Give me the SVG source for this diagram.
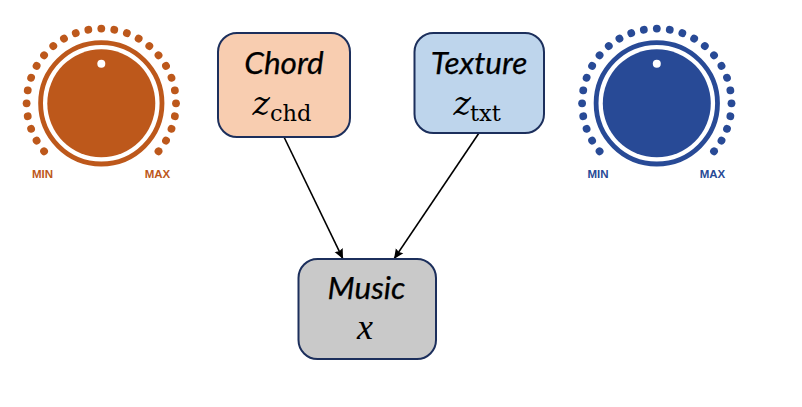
<svg xmlns="http://www.w3.org/2000/svg" width="802" height="407" viewBox="0 0 802 407">
<style>
.box{stroke:#1c2f5c;stroke-width:2}
.name{font-family:"Lato","Carlito","Open Sans",sans-serif;font-style:italic;font-size:31.5px;fill:#000;text-anchor:middle;stroke:#000;stroke-width:.25}
.math{font-family:"DejaVu Serif","Liberation Serif",serif;font-style:italic;font-size:33px;fill:#000}
.mathx{font-family:"Liberation Serif","DejaVu Serif",serif;font-style:italic;font-size:36px;fill:#000}
.sub{font-family:"DejaVu Serif","Liberation Serif",serif;font-size:22.5px;fill:#000}
.lim{font-family:"Liberation Sans",Arial,sans-serif;font-weight:bold;font-size:11.5px;text-anchor:middle}
.conn{stroke:#000;stroke-width:1.6;fill:none;marker-end:url(#arrow)}
.orange{color:#bd581b;fill:#bd581b}
.blue{color:#284a96;fill:#284a96}
</style>
<defs>
<marker id="arrow" markerUnits="userSpaceOnUse" markerWidth="11" markerHeight="10" refX="10" refY="5" orient="auto"><path d="M0 .5L10 5L0 9.500L1.500 5Z" fill="#000"/></marker>
<g id="knob">
<circle r="60.7" fill="none" stroke="currentColor" stroke-width="4.8"/>
<circle r="54" fill="currentColor"/>
<circle cy="-39.5" r="4" fill="#fff"/>
<g fill="currentColor">
<circle r="3.9" transform="rotate(-130) translate(0 -74.7)"/><circle r="3.9" transform="rotate(-120) translate(0 -74.7)"/><circle r="3.9" transform="rotate(-110) translate(0 -74.7)"/><circle r="3.9" transform="rotate(-100) translate(0 -74.7)"/><circle r="3.9" transform="rotate(-90) translate(0 -74.7)"/><circle r="3.9" transform="rotate(-80) translate(0 -74.7)"/><circle r="3.9" transform="rotate(-70) translate(0 -74.7)"/><circle r="3.9" transform="rotate(-60) translate(0 -74.7)"/><circle r="3.9" transform="rotate(-50) translate(0 -74.7)"/><circle r="3.9" transform="rotate(-40) translate(0 -74.7)"/><circle r="3.9" transform="rotate(-30) translate(0 -74.7)"/><circle r="3.9" transform="rotate(-20) translate(0 -74.7)"/><circle r="3.9" transform="rotate(-10) translate(0 -74.7)"/><circle r="3.9" transform="translate(0 -74.7)"/><circle r="3.9" transform="rotate(10) translate(0 -74.7)"/><circle r="3.9" transform="rotate(20) translate(0 -74.7)"/><circle r="3.9" transform="rotate(30) translate(0 -74.7)"/><circle r="3.9" transform="rotate(40) translate(0 -74.7)"/><circle r="3.9" transform="rotate(50) translate(0 -74.7)"/><circle r="3.9" transform="rotate(60) translate(0 -74.7)"/><circle r="3.9" transform="rotate(70) translate(0 -74.7)"/><circle r="3.9" transform="rotate(80) translate(0 -74.7)"/><circle r="3.9" transform="rotate(90) translate(0 -74.7)"/><circle r="3.9" transform="rotate(100) translate(0 -74.7)"/><circle r="3.9" transform="rotate(110) translate(0 -74.7)"/><circle r="3.9" transform="rotate(120) translate(0 -74.7)"/><circle r="3.9" transform="rotate(130) translate(0 -74.7)"/>
</g>
</g>
</defs>
<rect width="802" height="407" fill="#fff"/>
<g id="connectors">
<path class="conn" d="M284 137L343 259"/>
<path class="conn" d="M479 133L394 259"/>
</g>
<g id="knob-chord" class="orange">
<use href="#knob" x="101.3" y="103.3"/>
<text class="lim" x="42.500" y="178">MIN</text>
<text class="lim" x="157.500" y="178">MAX</text>
</g>
<g id="knob-texture" class="blue">
<use href="#knob" x="656.8" y="103.3"/>
<text class="lim" x="598" y="178">MIN</text>
<text class="lim" x="712.500" y="178">MAX</text>
</g>
<g id="node-chord">
<rect class="box" x="218" y="33" width="132" height="104" rx="19" fill="#f8cdb0"/>
<text class="name" x="284" y="73.500">Chord</text>
<text class="math" x="252.500" y="115">z</text><text class="sub" x="270" y="121">chd</text>
</g>
<g id="node-texture">
<rect class="box" x="414.500" y="33" width="129.500" height="100" rx="19" fill="#bed5ec"/>
<text class="name" x="479" y="73.500">Texture</text>
<text class="math" x="453.500" y="115">z</text><text class="sub" x="470" y="121">txt</text>
</g>
<g id="node-music">
<rect class="box" x="298.500" y="259" width="137.500" height="100" rx="19" fill="#c9c9c9"/>
<text class="name" x="366.500" y="299">Music</text>
<text class="mathx" x="357" y="339">x</text>
</g>
</svg>
